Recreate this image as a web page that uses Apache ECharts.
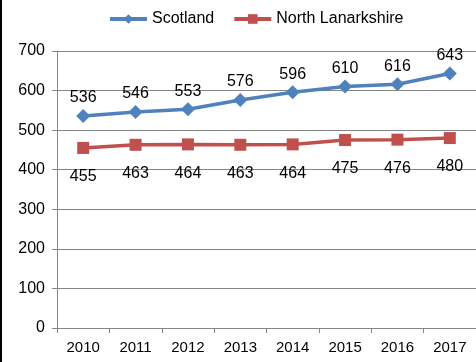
<!DOCTYPE html>
<html>
<head>
<meta charset="utf-8">
<script src="https://cdn.jsdelivr.net/npm/echarts@6/dist/echarts.min.js"></script>
<style>
  html, body { margin: 0; padding: 0; background: #fff; }
  #chart { width: 476px; height: 362px; border-left: 2px solid #000; box-sizing: border-box; }
</style>
</head>
<body>
<div id="chart"></div>
<script>
// Yearly values for Scotland and North Lanarkshire
const years = ['2010', '2011', '2012', '2013', '2014', '2015', '2016', '2017'];
const scotland = [536, 546, 553, 576, 596, 610, 616, 643];
const northLanarkshire = [455, 463, 464, 463, 464, 475, 476, 480];
const yTicks = { min: 0, max: 700, interval: 100 };

const font = 'Liberation Sans, Arial, sans-serif';
const axisGray = '#868686';

const chart = echarts.init(document.getElementById('chart'));
chart.setOption({
  animation: false,
  textStyle: { fontFamily: font },
  legend: {
    top: 6,
    left: 101,
    itemWidth: 37,
    itemHeight: 12,
    itemGap: 18,
    lineStyle: { width: 4 },
    textStyle: { fontSize: 16, color: '#000', fontFamily: font },
    data: ['Scotland', 'North Lanarkshire']
  },
  grid: { left: 55, right: -5, top: 51, bottom: 34 },
  xAxis: {
    type: 'category',
    data: years,
    boundaryGap: true,
    axisLine: { lineStyle: { color: axisGray, width: 1 } },
    axisTick: { show: true, length: 5, lineStyle: { color: axisGray } },
    axisLabel: { color: '#000', fontSize: 15, margin: 12, fontFamily: font }
  },
  yAxis: {
    type: 'value',
    min: yTicks.min,
    max: yTicks.max,
    interval: yTicks.interval,
    axisLine: { show: true, lineStyle: { color: axisGray, width: 1 } },
    axisTick: { show: true, length: 5, lineStyle: { color: axisGray } },
    axisLabel: { color: '#000', fontSize: 16, margin: 12, fontFamily: font },
    splitLine: { lineStyle: { color: axisGray, width: 1 } }
  },
  series: [
    {
      name: 'Scotland',
      type: 'line',
      data: scotland,
      symbol: 'diamond',
      symbolSize: 14,
      lineStyle: { color: '#4F81BD', width: 3.5 },
      itemStyle: { color: '#4F81BD' },
      label: { show: true, position: 'top', distance: 3, color: '#000', fontSize: 16, fontFamily: font }
    },
    {
      name: 'North Lanarkshire',
      type: 'line',
      data: northLanarkshire,
      symbol: 'rect',
      symbolSize: 12,
      lineStyle: { color: '#C0504D', width: 3.5 },
      itemStyle: { color: '#C0504D' },
      label: { show: true, position: 'bottom', distance: 15, color: '#000', fontSize: 16, fontFamily: font }
    }
  ]
});
</script>
</body>
</html>
